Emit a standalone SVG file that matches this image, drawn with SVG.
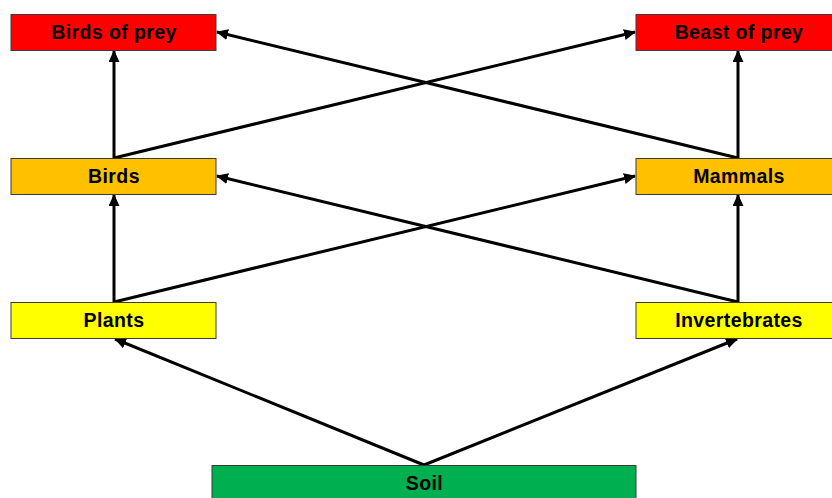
<svg xmlns="http://www.w3.org/2000/svg" width="832" height="498" viewBox="0 0 832 498">
  <style>
    .box { stroke: #3a3a3a; stroke-width: 1; }
    .label { font-family: "Liberation Sans", Arial, sans-serif; font-weight: bold; font-size: 19.5px; letter-spacing: 0.4px; fill: #000; text-anchor: middle; }
    .link { stroke: #000; stroke-width: 3; fill: none; marker-end: url(#arrow); }
  </style>
  <defs>
    <marker id="arrow" markerUnits="userSpaceOnUse" markerWidth="12" markerHeight="11" refX="11" refY="5.5" orient="auto">
      <path d="M0,0 L12,5.5 L0,11 Z" fill="#000"/>
    </marker>
  </defs>
  <rect width="832" height="498" fill="#fff"/>

  <g id="connectors">
    <line class="link" x1="114" y1="158" x2="114" y2="51"/>
    <line class="link" x1="114" y1="158" x2="635" y2="32"/>
    <line class="link" x1="738" y1="158" x2="217" y2="32"/>
    <line class="link" x1="738" y1="158" x2="738" y2="51"/>
    <line class="link" x1="114" y1="302" x2="114" y2="195"/>
    <line class="link" x1="114" y1="302" x2="635" y2="176"/>
    <line class="link" x1="738" y1="302" x2="217" y2="176"/>
    <line class="link" x1="738" y1="302" x2="738" y2="195"/>
    <line class="link" x1="424" y1="465" x2="115" y2="339"/>
    <line class="link" x1="424" y1="465" x2="737" y2="339"/>
  </g>

  <g id="birds-of-prey">
    <rect class="box" x="11" y="14.5" width="205" height="36" fill="#FF0000"/>
    <text class="label" x="114" y="38.5">Birds of prey</text>
  </g>
  <g id="beast-of-prey">
    <rect class="box" x="636" y="14.5" width="205" height="36" fill="#FF0000"/>
    <text class="label" x="739" y="38.5">Beast of prey</text>
  </g>
  <g id="birds">
    <rect class="box" x="11" y="158.5" width="205" height="36" fill="#FFC000"/>
    <text class="label" x="114" y="182.5">Birds</text>
  </g>
  <g id="mammals">
    <rect class="box" x="636" y="158.5" width="205" height="36" fill="#FFC000"/>
    <text class="label" x="739" y="182.5">Mammals</text>
  </g>
  <g id="plants">
    <rect class="box" x="11" y="302.5" width="205" height="36" fill="#FFFF00"/>
    <text class="label" x="114" y="326.5">Plants</text>
  </g>
  <g id="invertebrates">
    <rect class="box" x="636" y="302.5" width="205" height="36" fill="#FFFF00"/>
    <text class="label" x="739" y="326.5">Invertebrates</text>
  </g>
  <g id="soil">
    <rect class="box" x="212" y="465.5" width="424" height="40" fill="#00B050"/>
    <text class="label" x="424.5" y="490">Soil</text>
  </g>
</svg>
